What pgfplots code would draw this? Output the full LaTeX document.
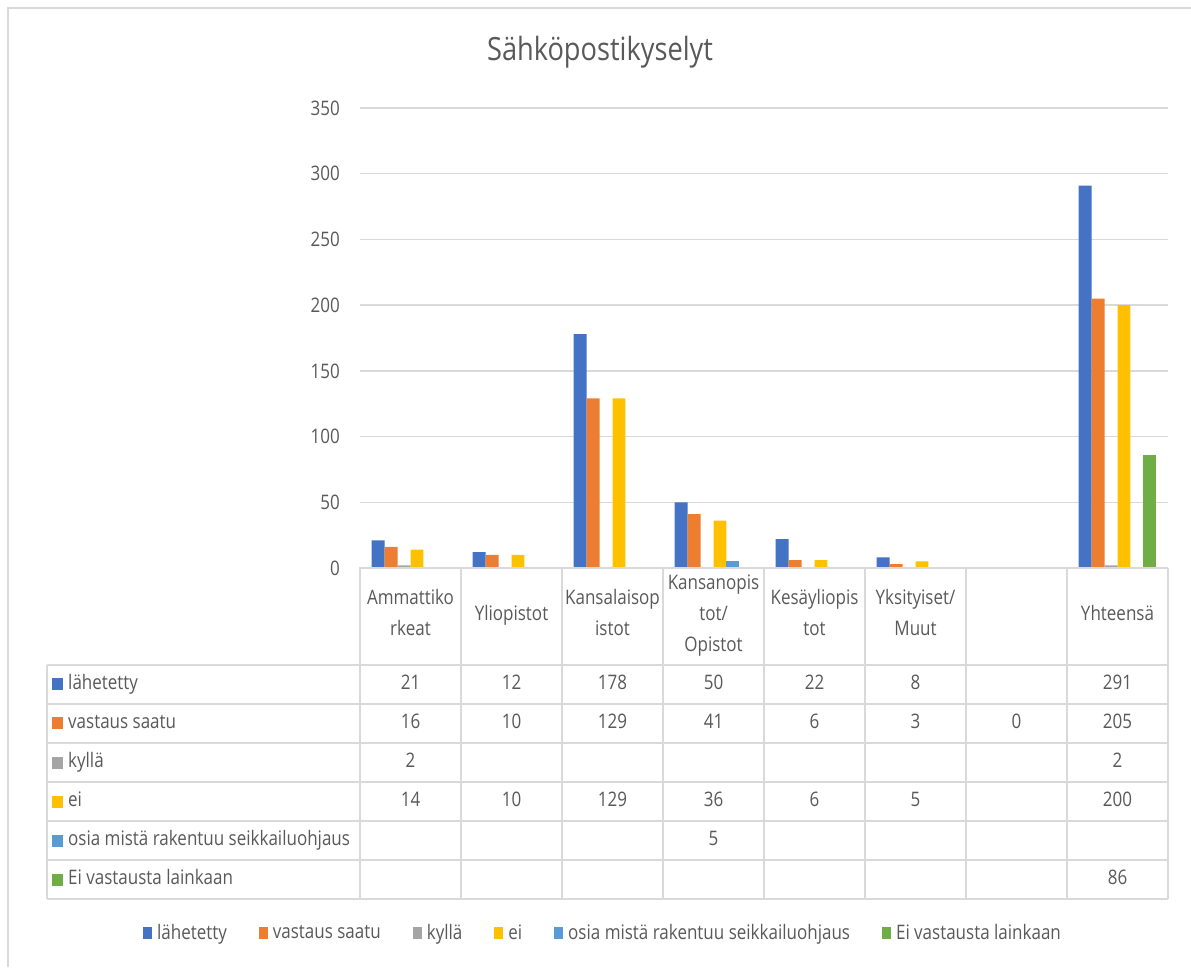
\documentclass[border=0pt]{standalone}
\usepackage{pgfplots}
\pgfplotsset{compat=1.18}
\usepackage{fontspec}
\setmainfont{Open Sans}[FakeStretch=0.85]
\definecolor{cA}{HTML}{4472C4}
\definecolor{cB}{HTML}{ED7D31}
\definecolor{cC}{HTML}{A5A5A5}
\definecolor{cD}{HTML}{FFC000}
\definecolor{cE}{HTML}{5B9BD5}
\definecolor{cF}{HTML}{70AD47}
\definecolor{txt}{HTML}{595959}
\definecolor{gridc}{HTML}{D9D9D9}
\newcommand\tf{\fontsize{20pt}{24pt}\selectfont}
\begin{document}
\begin{tikzpicture}[x=1pt,y=1pt]
\useasboundingbox (0,0) rectangle (1191,967);
\draw[gridc, line width=1.5pt] (8,0) -- (8,959) -- (1191,959);
\node[text=txt, font=\fontsize{32pt}{36pt}\selectfont] at (600,915) {Sähköpostikyselyt};
\begin{axis}[
  at={(360pt,399pt)}, anchor=south west,
  width=808pt, height=460pt, scale only axis,
  xmin=0, xmax=8, ymin=0, ymax=350,
  ytick={0,50,...,350}, xtick=\empty,
  ymajorgrids, grid style={draw=gridc, line width=1.3pt},
  axis line style={draw=none}, major tick length=0pt,
  tick label style={text=txt, font=\tf},
  yticklabel style={anchor=east, inner sep=0pt, xshift=-20pt},
  /pgf/number format/assume math mode=true,
  ybar, bar width=0.128,
  clip=false,
  legend columns=6,
  legend style={at={(axis description cs:0.2995,-0.7935)}, anchor=center,
    draw=none, fill=none, font=\tf, text=txt, inner sep=0pt,
    nodes={inner xsep=0pt},
    /tikz/every even column/.append style={column sep=32pt}},
  legend cell align=left,
  legend image code/.code={\fill[#1] (0pt,-6pt) rectangle (9pt,6pt); \path (14pt,0pt);},
]
\addplot[fill=cA, draw=none, bar shift=-0.32] coordinates {(0.5,21) (1.5,12) (2.5,178) (3.5,50) (4.5,22) (5.5,8) (7.5,291)};
\addplot[fill=cB, draw=none, bar shift=-0.192] coordinates {(0.5,16) (1.5,10) (2.5,129) (3.5,41) (4.5,6) (5.5,3) (6.5,0) (7.5,205)};
\addplot[fill=cC, draw=none, bar shift=-0.064] coordinates {(0.5,2) (7.5,2)};
\addplot[fill=cD, draw=none, bar shift=0.064] coordinates {(0.5,14) (1.5,10) (2.5,129) (3.5,36) (4.5,6) (5.5,5) (7.5,200)};
\addplot[fill=cE, draw=none, bar shift=0.192] coordinates {(3.5,5)};
\addplot[fill=cF, draw=none, bar shift=0.32] coordinates {(7.5,86)};
\legend{lähetetty, vastaus saatu, kyllä, ei, osia mistä rakentuu seikkailuohjaus, Ei vastausta lainkaan}
\end{axis}
% data table
\draw[gridc, line width=1.5pt] (359,399) -- (1168,399);
\foreach \y in {302,263,224,185,146,107,68} \draw[gridc, line width=1.5pt] (47,\y) -- (1168,\y);
\draw[gridc, line width=1.5pt] (47,302) -- (47,68);
\foreach \x in {360,461,...,1168} \draw[gridc, line width=1.5pt] (\x,399) -- (\x,68);
\begin{scope}[every node/.style={anchor=base, text=txt, font=\tf, inner sep=0pt}]
\node at (410.5,362) {Ammattiko};
\node at (410.5,331) {rkeat};
\node at (511.5,346.5) {Yliopistot};
\node at (612.5,362) {Kansalaisop};
\node at (612.5,331) {istot};
\node at (713.5,377.5) {Kansanopis};
\node at (713.5,346.5) {tot/};
\node at (713.5,315.5) {Opistot};
\node at (814.5,362) {Kesäyliopis};
\node at (814.5,331) {tot};
\node at (915.5,362) {Yksityiset/};
\node at (915.5,331) {Muut};
\node at (1117.5,346.5) {Yhteensä};
\foreach \j/\v in {0/21,1/12,2/178,3/50,4/22,5/8,7/291} \node at (410.5+101*\j,277.5) {\v};
\foreach \j/\v in {0/16,1/10,2/129,3/41,4/6,5/3,6/0,7/205} \node at (410.5+101*\j,238.5) {\v};
\foreach \j/\v in {0/2,7/2} \node at (410.5+101*\j,199.5) {\v};
\foreach \j/\v in {0/14,1/10,2/129,3/36,4/6,5/5,7/200} \node at (410.5+101*\j,160.5) {\v};
\foreach \j/\v in {3/5} \node at (410.5+101*\j,121.5) {\v};
\foreach \j/\v in {7/86} \node at (410.5+101*\j,82.5) {\v};
\foreach \c/\t [count=\i from 0] in {cA/lähetetty, cB/vastaus saatu, cC/kyllä, cD/ei, cE/osia mistä rakentuu seikkailuohjaus, cF/Ei vastausta lainkaan} {
  \pgfmathsetmacro\yc{282.5-39*\i}
  \fill[\c] (52,\yc-6) rectangle (63,\yc+6);
  \node[anchor=base west] at (68,\yc-5) {\t};
}
\end{scope}
\end{tikzpicture}
\end{document}
